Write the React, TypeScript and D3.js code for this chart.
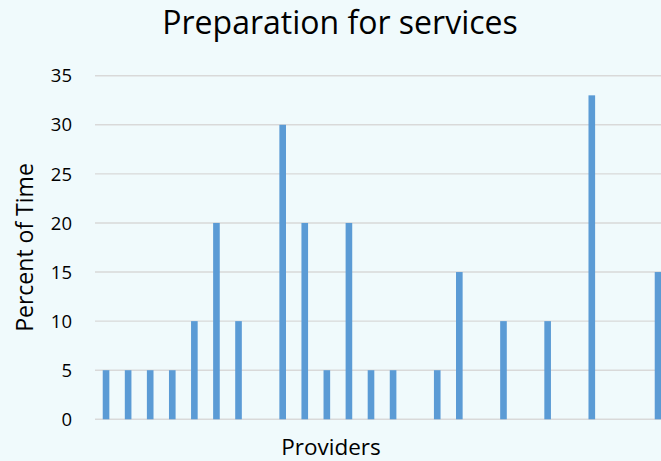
import React from "react";
import * as d3 from "d3";

const providers: string[] = Array.from({ length: 26 }, (_, i) => `P${i + 1}`);
const percentOfTime: number[] = [5, 5, 5, 5, 10, 20, 10, 0, 30, 20, 5, 20, 5, 5, 0, 5, 15, 0, 10, 0, 10, 0, 33, 0, 0, 15];
const yTicks: number[] = [0, 5, 10, 15, 20, 25, 30, 35];
const title = "Preparation for services";
const xTitle = "Providers";
const yTitle = "Percent of Time";

const W = 661;
const H = 461;
const FONT = "'Open Sans', Lato, sans-serif";

export default function App() {
  const left = 95;
  const step = 22.08;
  const x = d3
    .scaleBand<string>()
    .domain(providers)
    .range([left, left + step * providers.length])
    .paddingInner(0.7)
    .paddingOuter(0.35);
  const y = d3.scaleLinear().domain([0, 35]).range([419.3, 75.7]);

  return (
    <svg
      width={W}
      height={H}
      style={{ position: "fixed", left: 0, top: 0, background: "#F0FAFC" }}
    >
      <rect x={0} y={0} width={W} height={H} fill="#F0FAFC" />
      <text x={340} y={33.5} textAnchor="middle" fontFamily={FONT} fontSize={32} fill="#000">
        {title}
      </text>
      {yTicks.map((t) => (
        <g key={t}>
          <line x1={left} x2={W} y1={y(t)} y2={y(t)} stroke="#D9D9D9" strokeWidth={1.4} />
          <text
            x={72}
            y={y(t)}
            dy="0.36em"
            textAnchor="end"
            fontFamily={FONT}
            fontSize={18.5}
            fill="#000"
          >
            {t}
          </text>
        </g>
      ))}
      {providers.map((p, i) =>
        percentOfTime[i] > 0 ? (
          <rect
            key={p}
            x={x(p)}
            y={y(percentOfTime[i])}
            width={x.bandwidth()}
            height={y(0) - y(percentOfTime[i])}
            fill="#5B9BD5"
          />
        ) : null
      )}
      <text
        transform={`translate(33,${(y(0) + y(35)) / 2}) rotate(-90)`}
        textAnchor="middle"
        fontFamily={FONT}
        fontSize={23}
        fill="#000"
      >
        {yTitle}
      </text>
      <text x={331} y={455} textAnchor="middle" fontFamily={FONT} fontSize={22.5} fill="#000">
        {xTitle}
      </text>
    </svg>
  );
}
